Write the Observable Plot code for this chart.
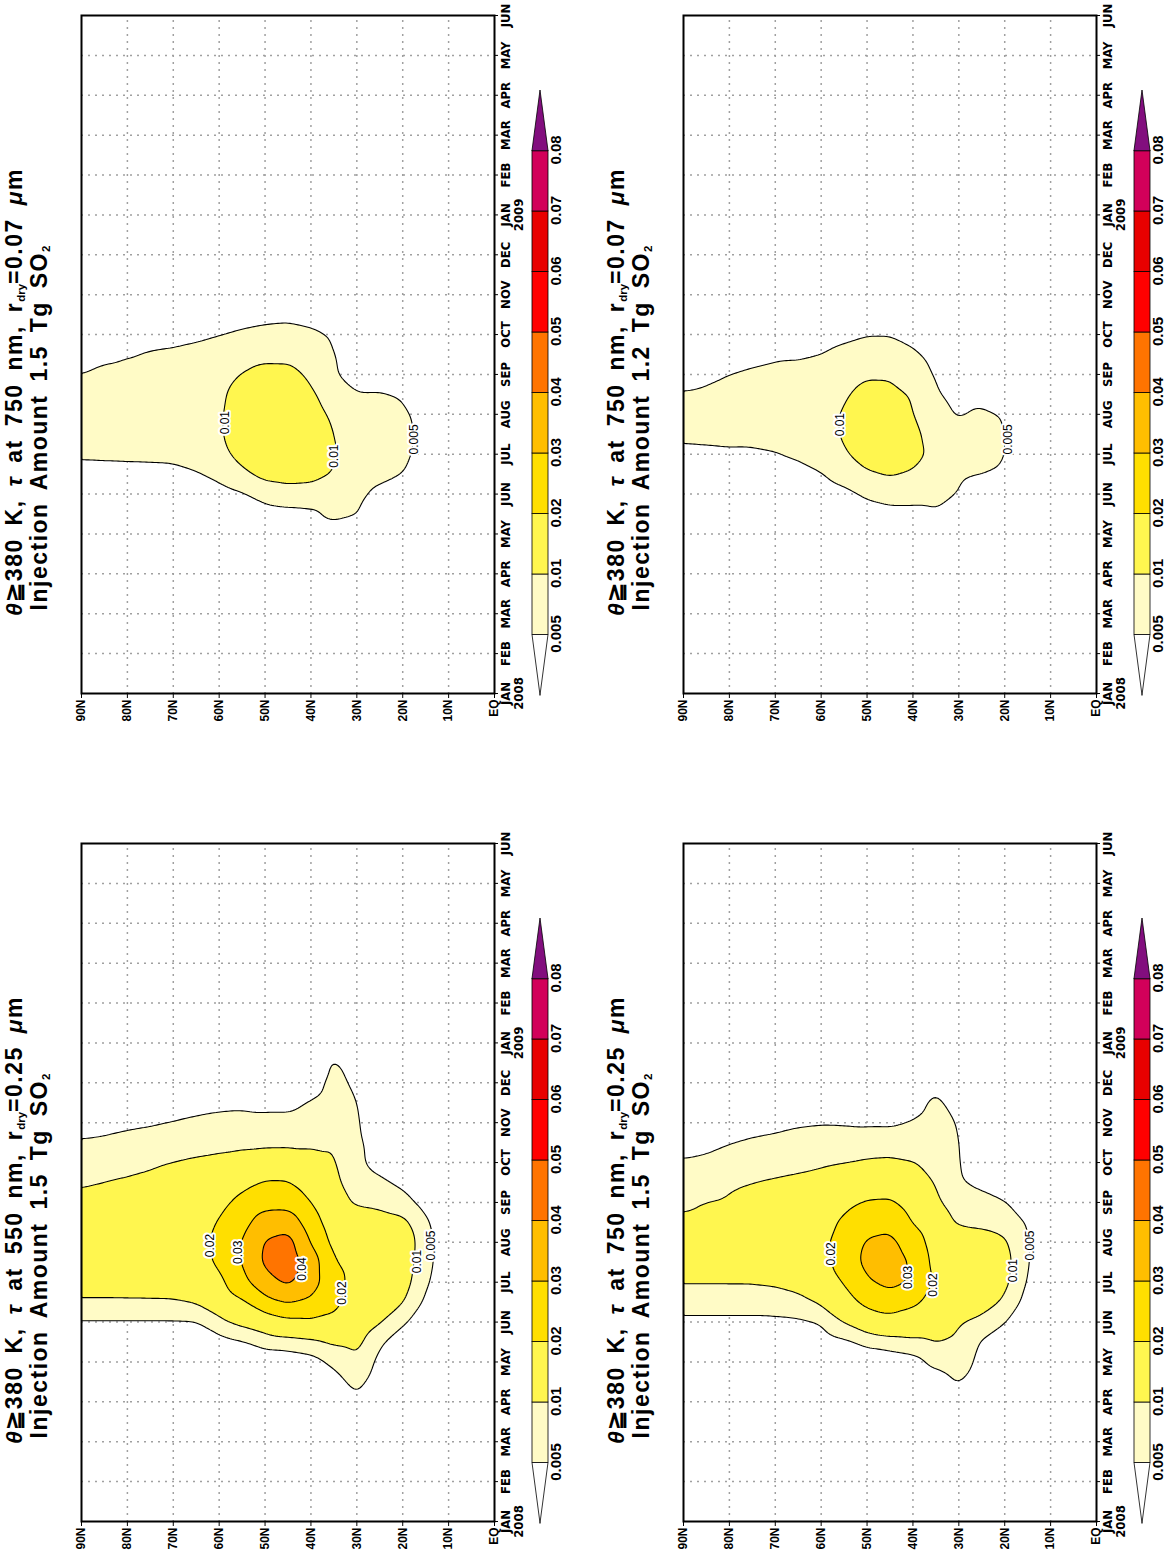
<!DOCTYPE html>
<html>
<head>
<meta charset="utf-8">
<script src="https://cdn.jsdelivr.net/npm/d3@7"></script>
<script src="https://cdn.jsdelivr.net/npm/@observablehq/plot@0.6"></script>
<style>
  html, body { margin: 0; padding: 0; background: #fff; overflow: hidden; }
  #page { position: relative; width: 1174px; height: 1554px; overflow: hidden; background: #fff; }
  .panel { position: absolute; width: 780px; height: 600px; transform-origin: 0 0; transform: rotate(-90deg); }
  .panel > * { position: absolute; left: 0; top: 0; }
  .title { font-family: "Liberation Sans", Arial, sans-serif; font-weight: bold; font-size: 23px; line-height: 23px;
           letter-spacing: 1.5px; word-spacing: 5px; white-space: nowrap; text-align: center; width: 700px; color: #000; }
  .title sub { font-size: 0.5em; line-height: 0; vertical-align: baseline; position: relative; top: 0.3em; letter-spacing: 0; }
</style>
</head>
<body>
<div id="page"></div>
<script>
// Time axis: month index 0 = JAN 2008 ... 17 = JUN 2009
const monthTicks = ["JAN\n2008","FEB","MAR","APR","MAY","JUN","JUL","AUG","SEP","OCT","NOV","DEC","JAN\n2009","FEB","MAR","APR","MAY","JUN"];
const latTicks = [0, 10, 20, 30, 40, 50, 60, 70, 80, 90];

// Shading levels of optical depth and their colours (below first level ... above last level)
const levels = [0.005, 0.01, 0.02, 0.03, 0.04, 0.05, 0.06, 0.07, 0.08];
const levelColors = ["#ffffff", "#fffbc6", "#fff64f", "#ffdf00", "#ffbe00", "#ff7400", "#ff0000", "#e80000", "#d2005a", "#820e7e"];

// Sampling grid of the zonal-mean optical depth fields
const gridMonths = [0, 3, 3.5, 4, 4.5, 5, 5.5, 6, 6.5, 7, 7.5, 8, 8.5, 9, 9.5, 10, 10.5, 11, 11.5, 12, 17];
const gridLats = [90, 85, 80, 75, 70, 65, 60, 55, 50, 45, 40, 35, 30, 25, 20, 15, 10, 5, 0];

// tau at 750 nm, r_dry = 0.07 um, 1.5 Tg SO2
const tau750r007amt15 = [
  [0, 0,0,0,0.001,0.002,0.003,0.0058,0.0068,0.007,0.006,0.0051,0.003,0.0015,0.001,0.0005,0,0,0,0, 0],
  [0, 0,0,0,0.001,0.002,0.003,0.006,0.0068,0.0072,0.0064,0.0058,0.0042,0.002,0.0015,0.0008,0,0,0,0, 0],
  [0, 0,0,0,0.001,0.002,0.003,0.0062,0.007,0.0073,0.0066,0.006,0.0048,0.0025,0.0018,0.001,0,0,0,0, 0],
  [0, 0,0,0,0.001,0.002,0.003,0.0064,0.007,0.0075,0.0068,0.006,0.0055,0.003,0.002,0.001,0,0,0,0, 0],
  [0, 0,0,0,0.001,0.002,0.003,0.0068,0.0075,0.0078,0.007,0.0062,0.0058,0.0035,0.0018,0.001,0,0,0,0, 0],
  [0, 0,0,0,0.001,0.0025,0.0045,0.0075,0.008,0.008,0.0075,0.0068,0.0062,0.0042,0.0022,0.0012,0,0,0,0, 0],
  [0, 0,0,0,0.0015,0.003,0.0065,0.0085,0.0093,0.0093,0.009,0.0078,0.0068,0.0049,0.0028,0.0015,0.0005,0,0,0, 0],
  [0, 0,0,0,0.002,0.0045,0.009,0.0115,0.013,0.013,0.0122,0.0102,0.0075,0.0057,0.0032,0.0018,0.0008,0,0,0, 0],
  [0, 0,0,0.001,0.003,0.007,0.0115,0.014,0.015,0.0148,0.0135,0.012,0.0085,0.0062,0.0038,0.002,0.001,0,0,0, 0],
  [0, 0,0,0.001,0.0035,0.008,0.012,0.0145,0.015,0.0145,0.013,0.0115,0.0088,0.0065,0.004,0.002,0.001,0,0,0, 0],
  [0, 0,0,0.0015,0.004,0.008,0.0115,0.0135,0.0135,0.012,0.0108,0.0092,0.007,0.0058,0.0035,0.0018,0.0008,0,0,0, 0],
  [0, 0,0,0.002,0.0065,0.0075,0.0098,0.0102,0.0098,0.009,0.0075,0.0054,0.0052,0.0047,0.0025,0.0012,0,0,0,0, 0],
  [0, 0,0,0.002,0.0052,0.0065,0.008,0.0085,0.0085,0.008,0.0053,0.003,0.002,0.001,0,0,0,0,0,0, 0],
  [0, 0,0,0,0.001,0.0035,0.0065,0.0075,0.0075,0.0072,0.0055,0.002,0.001,0,0,0,0,0,0,0, 0],
  [0, 0,0,0,0,0.001,0.0051,0.0062,0.0065,0.006,0.0045,0.001,0,0,0,0,0,0,0,0, 0],
  [0, 0,0,0,0,0,0.002,0.003,0.0035,0.003,0.001,0,0,0,0,0,0,0,0,0, 0],
  [0, 0,0,0,0,0,0,0,0.0005,0,0,0,0,0,0,0,0,0,0,0, 0],
  [0, 0,0,0,0,0,0,0,0,0,0,0,0,0,0,0,0,0,0,0, 0],
  [0, 0,0,0,0,0,0,0,0,0,0,0,0,0,0,0,0,0,0,0, 0]
];

// tau at 750 nm, r_dry = 0.07 um, 1.2 Tg SO2
const tau750r007amt12 = [
  [0, 0,0,0,0.001,0.001,0.0015,0.0044,0.0055,0.0058,0.0052,0.004,0.003,0.002,0.001,0,0,0,0,0, 0],
  [0, 0,0,0,0.001,0.001,0.0015,0.0045,0.0056,0.006,0.0054,0.0045,0.0034,0.0022,0.001,0,0,0,0,0, 0],
  [0, 0,0,0,0.001,0.001,0.0015,0.0046,0.0058,0.0063,0.0058,0.005,0.0038,0.0024,0.0012,0,0,0,0,0, 0],
  [0, 0,0,0,0.001,0.001,0.0015,0.0045,0.006,0.0066,0.006,0.0054,0.0042,0.0025,0.0012,0,0,0,0,0, 0],
  [0, 0,0,0,0.001,0.001,0.002,0.0049,0.0062,0.007,0.0065,0.0058,0.0045,0.0027,0.0013,0,0,0,0,0, 0],
  [0, 0,0,0,0.001,0.001,0.003,0.006,0.0068,0.0075,0.007,0.0062,0.0045,0.003,0.0015,0.0005,0,0,0,0, 0],
  [0, 0,0,0,0.001,0.002,0.0048,0.0075,0.008,0.0085,0.0078,0.0068,0.005,0.0032,0.0017,0.0008,0,0,0,0, 0],
  [0, 0,0,0,0.0015,0.0035,0.0075,0.0095,0.0105,0.0104,0.0095,0.008,0.0062,0.004,0.002,0.001,0,0,0,0, 0],
  [0, 0,0,0.001,0.0025,0.006,0.0095,0.012,0.0128,0.0125,0.0115,0.0095,0.0072,0.0048,0.0025,0.0012,0,0,0,0, 0],
  [0, 0,0,0.001,0.0035,0.007,0.0105,0.0125,0.013,0.0125,0.0112,0.0095,0.0072,0.0048,0.0025,0.0012,0,0,0,0, 0],
  [0, 0,0,0.001,0.0035,0.007,0.0095,0.0115,0.0112,0.0102,0.0096,0.0075,0.0058,0.0035,0.0018,0.001,0,0,0,0, 0],
  [0, 0,0,0.001,0.0045,0.0065,0.008,0.0088,0.008,0.0068,0.0055,0.0045,0.0035,0.002,0.001,0,0,0,0,0, 0],
  [0, 0,0,0,0.002,0.0048,0.006,0.0075,0.0068,0.0045,0.0035,0.002,0.001,0,0,0,0,0,0,0, 0],
  [0, 0,0,0,0.0005,0.001,0.0052,0.0065,0.0062,0.0058,0.0035,0.001,0,0,0,0,0,0,0,0, 0],
  [0, 0,0,0,0,0,0.0045,0.0052,0.0052,0.0048,0.002,0,0,0,0,0,0,0,0,0, 0],
  [0, 0,0,0,0,0,0,0.0015,0.0015,0.001,0,0,0,0,0,0,0,0,0,0, 0],
  [0, 0,0,0,0,0,0,0,0,0,0,0,0,0,0,0,0,0,0,0, 0],
  [0, 0,0,0,0,0,0,0,0,0,0,0,0,0,0,0,0,0,0,0, 0],
  [0, 0,0,0,0,0,0,0,0,0,0,0,0,0,0,0,0,0,0,0, 0]
];

// tau at 550 nm, r_dry = 0.25 um, 1.5 Tg SO2
const tau550r025amt15 = [
  [0, 0,0,0,0.002,0.0045,0.0095,0.012,0.013,0.013,0.0125,0.0103,0.0099,0.0082,0.0052,0.0038,0.002,0.001,0,0, 0],
  [0, 0,0,0,0.002,0.0045,0.0095,0.012,0.0132,0.0135,0.013,0.0106,0.0101,0.0085,0.0055,0.004,0.002,0.001,0,0, 0],
  [0, 0,0,0,0.002,0.0045,0.0095,0.0122,0.0135,0.014,0.0135,0.0112,0.0104,0.009,0.0058,0.0045,0.002,0.001,0,0, 0],
  [0, 0,0,0,0.002,0.0045,0.0095,0.0125,0.014,0.0145,0.014,0.012,0.0108,0.0095,0.006,0.0048,0.0025,0.001,0,0, 0],
  [0, 0,0,0,0.002,0.0045,0.0095,0.013,0.0145,0.015,0.0145,0.0128,0.0113,0.0103,0.0065,0.0052,0.003,0.001,0,0, 0],
  [0, 0,0,0,0.0025,0.0046,0.0105,0.0145,0.0165,0.017,0.0165,0.0145,0.0122,0.0112,0.007,0.0056,0.0038,0.0015,0,0, 0],
  [0, 0,0,0,0.003,0.0085,0.0135,0.0175,0.0215,0.022,0.0205,0.0175,0.0138,0.0122,0.0075,0.0058,0.0043,0.002,0,0, 0],
  [0, 0,0,0.001,0.0045,0.0115,0.0185,0.0275,0.0305,0.0305,0.0265,0.0225,0.0175,0.0135,0.008,0.0058,0.0045,0.002,0,0, 0],
  [0, 0,0,0.002,0.0068,0.014,0.027,0.036,0.042,0.041,0.035,0.0265,0.0205,0.015,0.0082,0.0058,0.0042,0.002,0.001,0, 0],
  [0, 0,0,0.002,0.0075,0.0175,0.031,0.042,0.046,0.044,0.036,0.0265,0.0205,0.0145,0.0085,0.006,0.004,0.002,0.001,0, 0],
  [0, 0,0.001,0.003,0.0085,0.0185,0.0285,0.035,0.036,0.0295,0.0245,0.0198,0.0155,0.0125,0.009,0.0068,0.0053,0.003,0.001,0, 0],
  [0, 0,0.003,0.006,0.0108,0.0185,0.022,0.0235,0.0205,0.017,0.0145,0.0125,0.0112,0.0105,0.0099,0.0075,0.0068,0.0065,0.0058,0.002, 0],
  [0, 0.004,0.0068,0.0095,0.0115,0.014,0.0165,0.0165,0.0165,0.015,0.0135,0.0092,0.0072,0.0058,0.0058,0.0055,0.0052,0.004,0.002,0, 0],
  [0, 0,0.002,0.0035,0.0058,0.0105,0.013,0.014,0.0145,0.014,0.0125,0.0085,0.0058,0.0035,0.003,0.002,0.001,0,0,0, 0],
  [0, 0,0,0.001,0.002,0.0058,0.0105,0.0125,0.0135,0.014,0.0115,0.0068,0.004,0.001,0,0,0,0,0,0, 0],
  [0, 0,0,0,0,0.002,0.004,0.0058,0.0065,0.0068,0.0058,0.003,0.001,0,0,0,0,0,0,0, 0],
  [0, 0,0,0,0,0,0,0.001,0.002,0.002,0.001,0,0,0,0,0,0,0,0,0, 0],
  [0, 0,0,0,0,0,0,0,0,0,0,0,0,0,0,0,0,0,0,0, 0],
  [0, 0,0,0,0,0,0,0,0,0,0,0,0,0,0,0,0,0,0,0, 0]
];

// tau at 750 nm, r_dry = 0.25 um, 1.5 Tg SO2
const tau750r025amt15 = [
  [0, 0,0,0,0.0015,0.004,0.007,0.0105,0.0105,0.0104,0.0102,0.0098,0.0088,0.0052,0.0038,0.0025,0.001,0,0,0, 0],
  [0, 0,0,0,0.0015,0.004,0.007,0.0105,0.0106,0.0105,0.0103,0.01005,0.0092,0.0056,0.0042,0.0028,0.0012,0,0,0, 0],
  [0, 0,0,0,0.0015,0.004,0.007,0.0105,0.0108,0.0106,0.0104,0.0102,0.0098,0.0062,0.0049,0.0032,0.0015,0,0,0, 0],
  [0, 0,0,0,0.0015,0.004,0.007,0.0105,0.0112,0.0112,0.0108,0.0104,0.0102,0.0068,0.0054,0.0038,0.0018,0,0,0, 0],
  [0, 0,0,0,0.0015,0.004,0.0075,0.0108,0.0118,0.012,0.0115,0.0108,0.0108,0.0075,0.0057,0.0042,0.002,0,0,0, 0],
  [0, 0,0,0,0.002,0.0042,0.0085,0.0118,0.013,0.0135,0.013,0.0118,0.0115,0.0082,0.006,0.0047,0.0022,0.001,0,0, 0],
  [0, 0,0,0,0.0025,0.0053,0.0108,0.0145,0.0165,0.0175,0.0165,0.0138,0.0125,0.009,0.0062,0.0049,0.0025,0.001,0,0, 0],
  [0, 0,0,0.001,0.004,0.0101,0.0165,0.0205,0.0245,0.0245,0.0215,0.0175,0.0142,0.0098,0.0063,0.0048,0.0025,0.001,0,0, 0],
  [0, 0,0,0.002,0.0062,0.0145,0.0225,0.029,0.0325,0.031,0.0265,0.0205,0.0155,0.0108,0.0065,0.0046,0.0025,0.001,0,0, 0],
  [0, 0,0,0.002,0.0075,0.0165,0.0255,0.0325,0.0345,0.0325,0.0275,0.021,0.0155,0.0112,0.0068,0.0045,0.002,0.001,0,0, 0],
  [0, 0,0.001,0.003,0.0085,0.016,0.0215,0.0295,0.029,0.0255,0.0195,0.016,0.0135,0.0102,0.0072,0.0053,0.0035,0.0015,0,0, 0],
  [0, 0,0.002,0.0065,0.0102,0.0135,0.0175,0.0185,0.0165,0.015,0.0132,0.0108,0.0095,0.0085,0.007,0.0065,0.006,0.004,0.001,0, 0],
  [0, 0.002,0.0055,0.0085,0.0095,0.0105,0.0145,0.015,0.015,0.014,0.0092,0.0075,0.0055,0.0052,0.0052,0.0048,0.003,0.001,0,0, 0],
  [0, 0,0.001,0.003,0.0045,0.0085,0.0125,0.013,0.0135,0.0125,0.0088,0.0065,0.004,0.002,0.001,0.001,0,0,0,0, 0],
  [0, 0,0,0,0.002,0.0052,0.0092,0.0115,0.012,0.0108,0.0078,0.0053,0.002,0,0,0,0,0,0,0, 0],
  [0, 0,0,0,0,0.001,0.003,0.0045,0.0052,0.0052,0.0045,0.002,0,0,0,0,0,0,0,0, 0],
  [0, 0,0,0,0,0,0,0,0.001,0.001,0,0,0,0,0,0,0,0,0,0, 0],
  [0, 0,0,0,0,0,0,0,0,0,0,0,0,0,0,0,0,0,0,0, 0],
  [0, 0,0,0,0,0,0,0,0,0,0,0,0,0,0,0,0,0,0,0, 0]
];

// Contour labels: [month index, latitude, level]
const labels750r007amt15 = [[6.79, 58.8, 0.01], [5.95, 35.0, 0.01], [6.37, 17.6, 0.005]];
const labels750r007amt12 = [[6.74, 55.9, 0.01], [6.37, 19.2, 0.005]];
const labels550r025amt15 = [[6.92, 62.0, 0.02], [6.75, 55.8, 0.03], [6.33, 41.9, 0.04], [5.73, 33.1, 0.02], [6.52, 16.8, 0.01], [6.92, 13.8, 0.005]];
const labels750r025amt15 = [[6.71, 57.9, 0.02], [6.12, 41.0, 0.03], [5.93, 35.7, 0.02], [6.29, 18.2, 0.01], [6.92, 14.5, 0.005]];

// Panel headings
const wavelengths = ["750", "750", "550", "750"];
const radii = ["0.07", "0.07", "0.25", "0.25"];
const amounts = ["1.5", "1.2", "1.5", "1.5"];

const narrowFont = "'Liberation Sans Narrow','DejaVu Sans Condensed','Liberation Sans',sans-serif";
const labelFont = "'Liberation Sans',Arial,sans-serif";
const gridStyle = {stroke: "#a0a0a0", strokeOpacity: 1, strokeDasharray: "2,5", strokeWidth: 1.5};

function fieldPlot(values, labels) {
  const pts = [];
  gridLats.forEach((lat, i) => gridMonths.forEach((t, j) => pts.push({t, lat, v: values[i][j]})));
  return Plot.plot({
    width: 780, height: 530,
    marginLeft: 86, marginRight: 16, marginTop: 81, marginBottom: 36,
    style: {background: "transparent", fontFamily: narrowFont, fontSize: "13px", fontWeight: "bold", color: "black", overflow: "visible"},
    x: {domain: [0, 17]},
    y: {domain: [0, 90]},
    color: {type: "threshold", domain: levels, range: levelColors},
    marks: [
      Plot.gridX(d3.range(1, 17), gridStyle),
      Plot.gridY(d3.range(10, 90, 10), gridStyle),
      Plot.contour(pts, {x: "t", y: "lat", fill: "v", thresholds: levels, interpolate: "barycentric",
                         pixelSize: 2, blur: 2, stroke: "black", strokeWidth: 1.1}),
      Plot.text(labels, {x: d => d[0], y: d => d[1], text: d => String(d[2]), fontFamily: labelFont,
                         fontSize: 12, fontWeight: "normal", fill: "black", stroke: "white", strokeWidth: 4}),
      Plot.axisX(d3.range(0, 18), {tickFormat: i => monthTicks[i], tickSize: 4, tickPadding: 2, label: null, lineHeight: 1}),
      Plot.axisY(latTicks, {tickFormat: d => d === 0 ? "EQ" : d + "N", tickSize: 4, tickPadding: 2, label: null,
                            fontFamily: labelFont, fontSize: 12}),
      Plot.frame({stroke: "black", strokeWidth: 2})
    ]
  });
}

function colorbar() {
  const boxes = levels.slice(0, -1).map((lv, i) => ({i, lv}));
  return Plot.plot({
    width: 780, height: 45,
    marginLeft: 85, marginRight: 90, marginTop: 7, marginBottom: 22,
    style: {background: "transparent", overflow: "visible"},
    x: {domain: [-1, 9], axis: null},
    y: {domain: [0, 1], axis: null},
    color: {type: "threshold", domain: levels, range: levelColors},
    marks: [
      Plot.rect(boxes, {x1: d => d.i, x2: d => d.i + 1, y1: () => 0, y2: () => 1, fill: "lv", stroke: "black", strokeWidth: 0.8}),
      Plot.areaY([{x: -1, a: 0.5, b: 0.5}, {x: 0, a: 0, b: 1}], {x: "x", y1: "a", y2: "b", fill: levelColors[0], stroke: "black", strokeWidth: 0.8}),
      Plot.areaY([{x: 8, a: 0, b: 1}, {x: 9, a: 0.5, b: 0.5}], {x: "x", y1: "a", y2: "b", fill: levelColors[levelColors.length - 1], stroke: "black", strokeWidth: 0.8}),
      Plot.text(levels, {x: (d, i) => i, y: () => 0, dy: 2, lineAnchor: "top", text: d => String(d),
                         fontFamily: labelFont, fontSize: 15, fontWeight: "bold", fill: "black"})
    ]
  });
}

const fields = [tau750r007amt15, tau750r007amt12, tau550r025amt15, tau750r025amt15];
const labelSets = [labels750r007amt15, labels750r007amt12, labels550r025amt15, labels750r025amt15];
const placements = [[0, 780], [602, 780], [0, 1608], [602, 1608]];

const page = document.getElementById("page");
fields.forEach((values, k) => {
  const panel = document.createElement("div");
  panel.className = "panel";
  panel.style.left = placements[k][0] + "px";
  panel.style.top = placements[k][1] + "px";

  const t1 = document.createElement("div");
  t1.className = "title";
  t1.innerHTML = `<i>θ</i>≧380 K, <i>τ</i> at ${wavelengths[k]} nm, r<sub>dry</sub>=${radii[k]} <i>μ</i>m`;
  t1.style.left = "38px";
  t1.style.top = "3px";

  const t2 = document.createElement("div");
  t2.className = "title";
  t2.innerHTML = `Injection Amount ${amounts[k]} Tg SO<sub>2</sub>`;
  t2.style.left = "2px";
  t2.style.top = "28px";

  const chart = fieldPlot(values, labelSets[k]);
  const bar = colorbar();
  bar.style.top = "525px";

  panel.append(chart, bar, t1, t2);
  page.append(panel);
});
</script>
</body>
</html>
